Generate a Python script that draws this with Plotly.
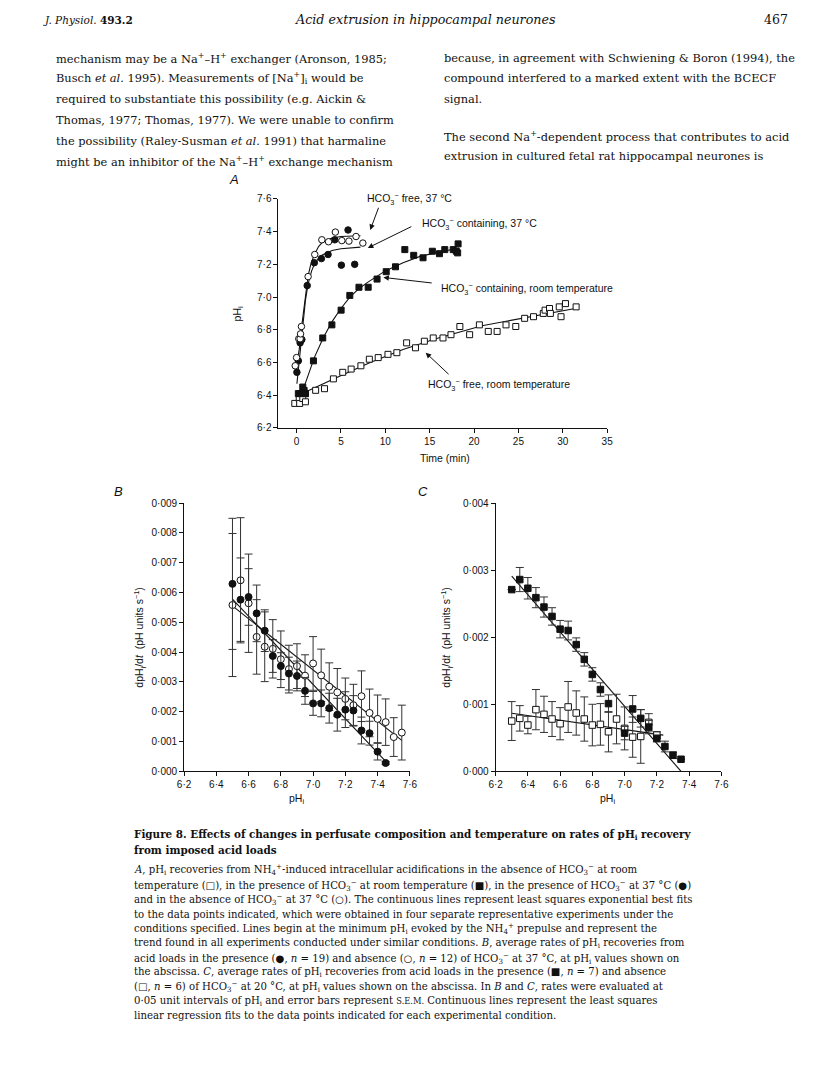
import plotly.graph_objects as go

W, H = 816, 1076          # browser window / reference picture
PAGE_MARGIN = 8           # default body margin of the page around the figure
FW, FH = W - 2 * PAGE_MARGIN, H - 2 * PAGE_MARGIN
X_SQUEEZE = 0.991         # measured horizontal squeeze of the photographed page

# ---------------- DATA ----------------
# Panel A: pHi vs time (min)
a_open_sq_t = [-0.2, 0.3, 0.35, 0.7, 1.0, 1.0, 2.15, 3.15, 4.15, 5.2, 6.15, 7.25, 8.2, 9.2, 10.3, 11.3, 12.4, 13.4,
               14.4, 15.4, 16.5, 17.4, 18.4, 19.5, 20.6, 21.6, 22.6, 23.6, 24.7, 25.7, 26.7, 27.8, 28.0, 28.5,
               28.6, 29.6, 29.8, 30.3, 31.5]
a_open_sq_ph = [6.35, 6.38, 6.35, 6.38, 6.36, 6.41, 6.43, 6.44, 6.50, 6.54, 6.56, 6.58, 6.62, 6.63, 6.65, 6.66, 6.72,
                6.69, 6.73, 6.75, 6.75, 6.77, 6.82, 6.77, 6.83, 6.79, 6.79, 6.83, 6.82, 6.87, 6.88, 6.90, 6.92, 6.93,
                6.90, 6.94, 6.88, 6.96, 6.94]
a_fill_sq_t = [0.2, 0.5, 0.7, 0.85, 1.0, 1.9, 2.95, 3.98, 5.02, 6.0, 7.03, 8.07, 9.07, 10.1, 11.15, 12.2, 13.2,
               14.25, 15.3, 16.1, 16.7, 17.65, 18.0, 18.15, 18.2]
a_fill_sq_ph = [6.41, 6.41, 6.45, 6.43, 6.41, 6.61, 6.75, 6.83, 6.92, 7.01, 7.06, 7.06, 7.11, 7.155, 7.185, 7.29,
                7.255, 7.24, 7.28, 7.265, 7.29, 7.29, 7.28, 7.27, 7.325]
a_fill_ci_t = [0.04, 0.2, 0.4, 0.6, 1.2, 2.0, 2.8, 3.55, 4.3, 5.05, 5.8, 6.55]
a_fill_ci_ph = [6.54, 6.61, 6.72, 6.74, 7.07, 7.21, 7.235, 7.26, 7.35, 7.195, 7.41, 7.20]
a_open_ci_t = [-0.15, 0.0, 0.25, 0.4, 0.45, 0.55, 1.3, 2.05, 2.85, 3.6, 4.37, 5.1, 5.9, 6.7, 7.47]
a_open_ci_ph = [6.58, 6.63, 6.745, 6.745, 6.775, 6.82, 7.125, 7.26, 7.35, 7.338, 7.397, 7.345, 7.342, 7.37, 7.33]

# Panel A fitted curves
fit_open_sq_t = [0.0, 1.0, 4.6, 8.3, 12.0, 15.7, 20.9, 25.8, 31.4]
fit_open_sq_ph = [6.39, 6.42, 6.51, 6.60, 6.68, 6.745, 6.825, 6.875, 6.93]
fit_fill_sq_t = [0.33, 1.0, 2.0, 3.0, 4.0, 5.0, 6.0, 7.0, 8.0, 10.0, 12.0, 14.0, 16.0, 18.3]
fit_fill_sq_ph = [6.37, 6.48, 6.63, 6.75, 6.85, 6.93, 7.0, 7.05, 7.09, 7.16, 7.21, 7.25, 7.275, 7.30]
fit_open_ci_t = [0.0, 0.3, 0.6, 1.0, 1.3, 1.6, 2.0, 2.5, 3.0, 4.0, 5.0, 7.2]
fit_open_ci_ph = [6.58, 6.68, 6.83, 7.02, 7.13, 7.20, 7.26, 7.31, 7.34, 7.36, 7.37, 7.375]
fit_fill_ci_t = [0.04, 0.3, 0.6, 1.0, 1.3, 1.7, 2.0, 2.5, 3.0, 4.0, 5.0, 7.2]
fit_fill_ci_ph = [6.47, 6.60, 6.75, 6.98, 7.08, 7.16, 7.20, 7.24, 7.26, 7.285, 7.295, 7.305]

# Panel B: dpHi/dt (units 1e-3 pH s^-1) vs pHi, 37 °C
b_fill_ph = [6.50, 6.55, 6.60, 6.65, 6.70, 6.75, 6.80, 6.85, 6.90, 6.95, 7.00, 7.05, 7.10, 7.15, 7.20, 7.25, 7.30,
             7.35, 7.40, 7.45]
b_fill_rate = [6.29, 5.76, 5.85, 5.30, 4.72, 3.87, 3.53, 3.28, 3.20, 2.70, 2.28, 2.28, 2.12, 1.90, 2.07, 2.04, 1.37,
               1.28, 0.66, 0.28]
b_fill_sem = [2.2, 1.4, 0.95, 0.95, 0.7, 0.55, 0.45, 0.55, 0.5, 0.45, 0.4, 0.45, 0.5, 0.55, 0.6, 0.5, 0.45, 0.4,
              0.28, 0.05]
b_open_ph = [6.50, 6.55, 6.60, 6.65, 6.70, 6.75, 6.80, 6.85, 6.90, 6.95, 7.00, 7.05, 7.10, 7.15, 7.20, 7.25, 7.30,
             7.35, 7.40, 7.45, 7.50, 7.55]
b_open_rate = [5.58, 6.41, 5.64, 4.51, 4.18, 4.11, 3.76, 3.43, 3.53, 3.21, 3.62, 3.22, 2.84, 2.65, 2.43, 2.22, 2.52,
               1.96, 1.76, 1.65, 1.15, 1.30]
b_open_sem = [2.4, 2.1, 1.65, 1.25, 1.17, 0.98, 0.95, 0.8, 0.75, 0.7, 0.9, 0.88, 0.8, 0.8, 0.7, 0.7, 0.85, 0.8, 0.8,
              0.78, 0.65, 0.92]
b_fit_fill_ph = [6.50, 7.47]
b_fit_fill_rate = [5.78, 0.22]
b_fit_open_ph = [6.50, 7.55]
b_fit_open_rate = [5.55, 1.04]

# Panel C: dpHi/dt (units 1e-3 pH s^-1) vs pHi, 20 °C
c_fill_ph = [6.30, 6.35, 6.40, 6.45, 6.50, 6.55, 6.60, 6.65, 6.70, 6.75, 6.80, 6.85, 6.90, 7.00, 7.05, 7.10, 7.15,
             7.20, 7.25, 7.30, 7.35]
c_fill_rate = [2.71, 2.86, 2.73, 2.59, 2.45, 2.31, 2.12, 2.10, 1.89, 1.67, 1.445, 1.22, 1.01, 0.57, 0.93, 0.79,
               0.66, 0.49, 0.37, 0.24, 0.18]
c_fill_sem = [0.0, 0.18, 0.16, 0.15, 0.15, 0.13, 0.13, 0.14, 0.1, 0.1, 0.1, 0.1, 0.13, 0.1, 0.2, 0.13, 0.1, 0.05,
              0.08, 0.05, 0.0]
c_open_ph = [6.30, 6.35, 6.40, 6.45, 6.50, 6.55, 6.60, 6.65, 6.70, 6.75, 6.80, 6.85, 6.90, 6.95, 7.00, 7.05, 7.10,
             7.15, 7.20]
c_open_rate = [0.75, 0.79, 0.69, 0.92, 0.85, 0.78, 0.71, 0.96, 0.87, 0.78, 0.69, 0.70, 0.59, 0.78, 0.64, 0.51, 0.52,
               0.73, 0.54]
c_open_sem = [0.29, 0.19, 0.13, 0.3, 0.27, 0.26, 0.24, 0.38, 0.33, 0.33, 0.31, 0.31, 0.3, 0.37, 0.32, 0.3, 0.4,
              0.13, 0.05]
c_fit_fill_ph = [6.30, 7.35]
c_fit_fill_rate = [2.91, 0.0]
c_fit_open_ph = [6.30, 7.24]
c_fit_open_rate = [0.865, 0.54]

# Tick labels
a_xticks = [0, 5, 10, 15, 20, 25, 30, 35]
a_yticks = [6.2, 6.4, 6.6, 6.8, 7.0, 7.2, 7.4, 7.6]
a_yticktext = ["6·2", "6·4", "6·6", "6·8", "7·0", "7·2", "7·4", "7·6"]
bc_xticks = [6.2, 6.4, 6.6, 6.8, 7.0, 7.2, 7.4, 7.6]
bc_xticktext = ["6·2", "6·4", "6·6", "6·8", "7·0", "7·2", "7·4", "7·6"]
b_yticks = [0.000, 0.001, 0.002, 0.003, 0.004, 0.005, 0.006, 0.007, 0.008, 0.009]
b_yticktext = ["0·000", "0·001", "0·002", "0·003", "0·004", "0·005", "0·006", "0·007", "0·008", "0·009"]
c_yticks = [0.000, 0.001, 0.002, 0.003, 0.004]
c_yticktext = ["0·000", "0·001", "0·002", "0·003", "0·004"]

# ---------------- helpers (layout only) ----------------
def px(x):
    return (x / X_SQUEEZE - PAGE_MARGIN) / FW


def py(y):
    return 1 - (y - PAGE_MARGIN) / FH


def k(v):
    return [u / 1000.0 for u in v]


SANS = "Liberation Sans, Arial, sans-serif"
SERIF = "DejaVu Serif, serif"
BLACK = "#111111"

fig = go.Figure()

line_style = dict(color=BLACK, width=1.1)


def add_line(x, y, xa, ya):
    fig.add_trace(go.Scatter(x=x, y=y, mode="lines", line=line_style, xaxis=xa, yaxis=ya,
                             showlegend=False, hoverinfo="skip"))


def add_marks(x, y, symbol, filled, size, xa, ya, err=None):
    m = dict(symbol=symbol, size=size, color=BLACK if filled else "white",
             line=dict(color=BLACK, width=1))
    kw = {}
    if err is not None:
        kw["error_y"] = dict(type="data", array=err, visible=True, color="#333333", thickness=1, width=4)
    fig.add_trace(go.Scatter(x=x, y=y, mode="markers", marker=m, xaxis=xa, yaxis=ya, showlegend=False,
                             cliponaxis=False, **kw))


# Panel A
add_line(fit_open_sq_t, fit_open_sq_ph, "x", "y")
add_line(fit_fill_sq_t, fit_fill_sq_ph, "x", "y")
add_line(fit_open_ci_t, fit_open_ci_ph, "x", "y")
add_line(fit_fill_ci_t, fit_fill_ci_ph, "x", "y")
add_marks(a_open_sq_t, a_open_sq_ph, "square", False, 6, "x", "y")
add_marks(a_fill_sq_t, a_fill_sq_ph, "square", True, 6, "x", "y")
add_marks(a_fill_ci_t, a_fill_ci_ph, "circle", True, 6.5, "x", "y")
add_marks(a_open_ci_t, a_open_ci_ph, "circle", False, 6.5, "x", "y")

# Panel B
add_line(b_fit_fill_ph, k(b_fit_fill_rate), "x2", "y2")
add_line(b_fit_open_ph, k(b_fit_open_rate), "x2", "y2")
add_marks(b_open_ph, k(b_open_rate), "circle", False, 7, "x2", "y2", k(b_open_sem))
add_marks(b_fill_ph, k(b_fill_rate), "circle", True, 7, "x2", "y2", k(b_fill_sem))

# Panel C
add_line(c_fit_fill_ph, k(c_fit_fill_rate), "x3", "y3")
add_line(c_fit_open_ph, k(c_fit_open_rate), "x3", "y3")
add_marks(c_open_ph, k(c_open_rate), "square", False, 6.5, "x3", "y3", k(c_open_sem))
add_marks(c_fill_ph, k(c_fill_rate), "square", True, 6.5, "x3", "y3", k(c_fill_sem))

axis_common = dict(showgrid=False, zeroline=False, showline=True, linecolor=BLACK, linewidth=1,
                   ticks="outside", ticklen=4, tickcolor=BLACK, tickwidth=1,
                   tickfont=dict(family=SANS, size=10, color=BLACK), fixedrange=True)

fig.update_layout(
    width=FW, height=FH, margin=dict(l=0, r=0, t=0, b=0),
    paper_bgcolor="white", plot_bgcolor="rgba(0,0,0,0)", showlegend=False,
    xaxis=dict(domain=[px(274), px(606)], range=[-2.04, 35], tickvals=a_xticks, anchor="y", **axis_common),
    yaxis=dict(domain=[py(426.7), py(195)], range=[6.2, 7.6], tickvals=a_yticks, ticktext=a_yticktext,
               anchor="x", **axis_common),
    xaxis2=dict(domain=[px(178.7), px(406.7)], range=[6.2, 7.6], tickvals=bc_xticks, ticktext=bc_xticktext,
                anchor="y2", **axis_common),
    yaxis2=dict(domain=[py(774), py(502.7)], range=[0, 0.009], tickvals=b_yticks, ticktext=b_yticktext,
                anchor="x2", **axis_common),
    xaxis3=dict(domain=[px(493.3), px(721.3)], range=[6.2, 7.6], tickvals=bc_xticks, ticktext=bc_xticktext,
                anchor="y3", **axis_common),
    yaxis3=dict(domain=[py(774), py(502.7)], range=[0, 0.004], tickvals=c_yticks, ticktext=c_yticktext,
                anchor="x3", **axis_common),
)

ann = []


def text(x, y, s, size=11, family=SANS, xanchor="left", angle=0, color=BLACK):
    ann.append(dict(x=px(x), y=py(y), xref="paper", yref="paper", text=s, showarrow=False,
                    xanchor=xanchor, yanchor="middle", textangle=angle, align=xanchor, borderpad=0,
                    font=dict(family=family, size=size, color=color)))


HCO3 = "HCO<sub>3</sub><sup>−</sup>"

# Panel letters and axis titles
text(229, 175, "<i>A</i>", 13, xanchor="center")
text(112, 491, "<i>B</i>", 13, xanchor="center")
text(420, 491, "<i>C</i>", 13, xanchor="center")
text(233, 311, "pH<sub>i</sub>", 10.5, xanchor="center", angle=-90)
text(442, 457, "Time (min)", 10.5, xanchor="center")
text(134, 638, "dpH<sub>i</sub>/d<i>t</i>  (pH units s<sup>−1</sup>)", 10.5, xanchor="center", angle=-90)
text(292, 802, "pH<sub>i</sub>", 10.5, xanchor="center")
text(444, 638, "dpH<sub>i</sub>/d<i>t</i>  (pH units s<sup>−1</sup>)", 10.5, xanchor="center", angle=-90)
text(606, 802, "pH<sub>i</sub>", 10.5, xanchor="center")

# Panel A labels
text(362, 195, HCO3 + " free, 37 °C", 10.5)
text(418, 220, HCO3 + " containing, 37 °C", 10.5)
text(437, 286, HCO3 + " containing, room temperature", 10.5)
text(424, 383, HCO3 + " free, room temperature", 10.5)

# Arrows (head on data, tail in data coords)
arrows = [((8.3, 7.41), (9.3, 7.555)), ((8.03, 7.30), (13.1, 7.435)), ((9.78, 7.12), (15.4, 7.085)),
          ((14.55, 6.66), (17.3, 6.52))]
for (hx, hy), (tx, ty) in arrows:
    ann.append(dict(x=hx, y=hy, ax=tx, ay=ty, xref="x", yref="y", axref="x", ayref="y", text="",
                    showarrow=True, arrowhead=2, arrowsize=1.1, arrowwidth=1, arrowcolor=BLACK))

# Page header
text(35, 14, "<i>J. Physiol.</i> <b>493.2</b>", 10.5, family=SERIF)
text(423, 14, "<i>Acid extrusion in hippocampal neurones</i>", 12.7, family=SERIF, xanchor="center")
text(790, 14, "467", 12.5, family=SERIF, xanchor="right")

# Body text
BODY = 11.4
left_col = [
    "mechanism may be a Na<sup>+</sup>–H<sup>+</sup> exchanger (Aronson, 1985;",
    "Busch <i>et al.</i> 1995). Measurements of [Na<sup>+</sup>]<sub>i</sub> would be",
    "required to substantiate this possibility (e.g. Aickin &amp;",
    "Thomas, 1977; Thomas, 1977). We were unable to confirm",
    "the possibility (Raley-Susman <i>et al.</i> 1991) that harmaline",
    "might be an inhibitor of the Na<sup>+</sup>–H<sup>+</sup> exchange mechanism",
]
left_y = [53, 73, 94, 115, 136, 157]
for s, y in zip(left_col, left_y):
    text(48, y, s, BODY, family=SERIF)

right_col = [
    ("because, in agreement with Schwiening &amp; Boron (1994), the", 53),
    ("compound interfered to a marked extent with the BCECF", 73),
    ("signal.", 94),
    ("The second Na<sup>+</sup>-dependent process that contributes to acid", 132),
    ("extrusion in cultured fetal rat hippocampal neurones is", 152),
]
for s, y in right_col:
    text(440, y, s, BODY, family=SERIF)

# Caption
CAP = 10.15
cap = [
    ("<b><span style='font-size:10.4px'>Figure 8. Effects of changes in perfusate composition and temperature on rates of pH<sub>i</sub> recovery</span></b>", 838),
    ("<b><span style='font-size:10.4px'>from imposed acid loads</span></b>", 854),
    ("<i>A</i>, pH<sub>i</sub> recoveries from NH<sub>4</sub><sup>+</sup>-induced intracellular acidifications in the absence of " + HCO3 + " at room", 873),
    ("temperature (□), in the presence of " + HCO3 + " at room temperature (■), in the presence of " + HCO3 + " at 37 °C (●)", 889),
    ("and in the absence of " + HCO3 + " at 37 °C (○). The continuous lines represent least squares exponential best fits", 904),
    ("to the data points indicated, which were obtained in four separate representative experiments under the", 919),
    ("conditions specified. Lines begin at the minimum pH<sub>i</sub> evoked by the NH<sub>4</sub><sup>+</sup> prepulse and represent the", 933),
    ("trend found in all experiments conducted under similar conditions. <i>B</i>, average rates of pH<sub>i</sub> recoveries from", 948),
    ("acid loads in the presence (●, <i>n</i> = 19) and absence (○, <i>n</i> = 12) of " + HCO3 + " at 37 °C, at pH<sub>i</sub> values shown on", 963),
    ("the abscissa. <i>C</i>, average rates of pH<sub>i</sub> recoveries from acid loads in the presence (■, <i>n</i> = 7) and absence", 977),
    ("(□, <i>n</i> = 6) of " + HCO3 + " at 20 °C, at pH<sub>i</sub> values shown on the abscissa. In <i>B</i> and <i>C</i>, rates were evaluated at", 992),
    ("0·05 unit intervals of pH<sub>i</sub> and error bars represent <span style='font-size:8.3px'>S.E.M.</span> Continuous lines represent the least squares", 1007),
    ("linear regression fits to the data points indicated for each experimental condition.", 1021),
]
for s, y in cap:
    text(127, y, s, CAP, family=SERIF)

fig.update_layout(annotations=ann)
fig.write_html("out.html", config={"displayModeBar": False})
